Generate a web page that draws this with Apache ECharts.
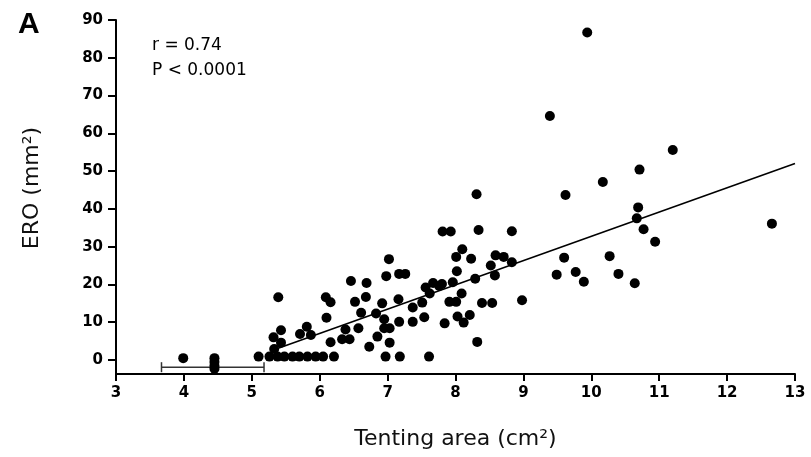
<!DOCTYPE html>
<html>
<head>
<meta charset="utf-8">
<script src="https://cdn.jsdelivr.net/npm/echarts@6/dist/echarts.min.js"></script>
<style>html,body{margin:0;padding:0;background:#fff;}#c{width:811px;height:457px;}</style>
</head>
<body>
<div id="c"></div>
<script>
// Tenting area (cm²) and ERO (mm²) per patient
const tentingArea = [
  3.99, 4.45, 4.45, 4.45, 4.45,
  5.10, 5.26, 5.38, 5.48, 5.60, 5.70, 5.82, 5.94, 6.05, 6.21, 6.97, 7.18, 7.61,
  5.33, 5.43, 5.32, 5.43, 5.39, 5.71, 5.81, 5.87, 6.09, 6.16, 6.10, 6.16,
  6.33, 6.44, 6.38, 6.46, 6.52, 6.57, 6.61, 6.68, 6.69, 6.73, 6.83, 6.85,
  6.92, 6.95, 6.95, 7.03, 7.03, 6.98, 7.02, 7.17, 7.26, 7.16, 7.17, 7.37,
  7.37, 7.51, 7.54, 7.56, 7.67, 7.76, 7.62, 7.81, 7.93, 7.80, 7.96, 8.02,
  8.01, 8.10, 8.23, 8.09, 7.91, 8.01, 7.84, 8.03, 8.21, 8.12, 8.29, 8.31,
  8.34, 8.32, 8.39, 8.54, 8.52, 8.58, 8.59, 8.71, 8.83, 8.83, 8.98, 9.39,
  9.94, 9.62, 9.60, 9.49, 9.77, 9.89, 10.17, 10.27, 10.40, 10.64, 10.71, 10.69,
  10.67, 10.77, 10.94, 11.20, 12.66
];
const eroValues = [
  0.5, 0.5, -0.5, -1.5, -2.3,
  0.9, 0.9, 0.9, 0.9, 0.9, 0.9, 0.9, 0.9, 0.9, 0.9, 0.9, 0.9, 0.9,
  2.9, 4.6, 6.0, 7.9, 16.6, 6.9, 8.8, 6.6, 16.6, 15.3, 11.2, 4.7,
  5.5, 5.5, 8.1, 20.9, 15.4, 8.4, 12.5, 16.7, 20.4, 3.5, 12.3, 6.2,
  15.0, 10.8, 8.4, 8.4, 4.6, 22.2, 26.7, 22.8, 22.8, 16.1, 10.1, 10.1,
  13.9, 15.2, 11.3, 19.2, 20.4, 19.6, 17.6, 34.0, 34.0, 20.1, 20.6, 23.5,
  27.3, 29.3, 26.8, 17.6, 15.4, 15.4, 9.7, 11.5, 11.9, 9.9, 21.5, 43.9,
  34.4, 4.8, 15.1, 15.1, 25.0, 22.4, 27.7, 27.3, 25.9, 34.1, 15.8, 64.6,
  86.7, 43.7, 27.1, 22.6, 23.3, 20.7, 47.1, 27.5, 22.8, 20.3, 50.4, 40.4,
  37.5, 34.6, 31.3, 55.6, 36.1
];
// Regression line end points
const fitX = [5.4, 13.0];
const fitY = [3.2, 52.0];
// Mean ± SD bar of the zero-ERO group
const errBar = { low: 3.67, high: 5.18, y: -1.9 };
// Axes
const xTicks = [3, 4, 5, 6, 7, 8, 9, 10, 11, 12, 13];
const yTicks = [0, 10, 20, 30, 40, 50, 60, 70, 80, 90];
const xTitle = 'Tenting area (cm²)';
const yTitle = 'ERO (mm²)';
const panelLabel = 'A';
const statsText = ['r = 0.74', 'P < 0.0001'];

const points = tentingArea.map((x, i) => [x, eroValues[i]]);
const fitLine = fitX.map((x, i) => [x, fitY[i]]);

const chart = echarts.init(document.getElementById('c'));
const font = '"DejaVu Sans", sans-serif';
chart.setOption({
  animation: false,
  backgroundColor: '#fff',
  grid: { left: 116, right: 16, top: 20, bottom: 83 },
  xAxis: {
    type: 'value', min: 3, max: 13, interval: 1,
    name: xTitle, nameLocation: 'middle', nameGap: 54,
    nameTextStyle: { fontFamily: font, fontSize: 22, color: '#111' },
    axisLine: { show: true, onZero: false, lineStyle: { color: '#000', width: 2 } },
    axisTick: { show: true, length: 7, lineStyle: { color: '#000', width: 2 } },
    axisLabel: { customValues: xTicks, fontFamily: font, fontSize: 15, fontWeight: 'bold', color: '#000', margin: 12 },
    splitLine: { show: false }
  },
  yAxis: {
    type: 'value', min: -3.7, max: 90,
    axisLine: { show: true, onZero: false, lineStyle: { color: '#000', width: 2 } },
    axisTick: { show: true, length: 8, customValues: yTicks, lineStyle: { color: '#000', width: 2 } },
    axisLabel: { customValues: yTicks, fontFamily: font, fontSize: 15, fontWeight: 'bold', color: '#000', margin: 13 },
    splitLine: { show: false }
  },
  graphic: [
    { type: 'text', left: 18, top: 10, style: { text: panelLabel, font: 'bold 30px "Liberation Sans", Arial, sans-serif', fill: '#000' } },
    { type: 'text', left: 152, top: 37, style: { text: statsText[0], font: '17px ' + font, fill: '#000' } },
    { type: 'text', left: 152, top: 62, style: { text: statsText[1], font: '17px ' + font, fill: '#000' } },
    { type: 'text', x: 32, y: 188, rotation: Math.PI / 2,
      style: { text: yTitle, font: '22px ' + font, fill: '#111', align: 'center', verticalAlign: 'middle' } }
  ],
  series: [
    {
      type: 'custom',
      data: [[errBar.low, errBar.high, errBar.y]],
      renderItem: function (params, api) {
        const a = api.coord([api.value(0), api.value(2)]);
        const b = api.coord([api.value(1), api.value(2)]);
        const st = { stroke: '#333', lineWidth: 1.5 };
        return { type: 'group', children: [
          { type: 'line', shape: { x1: a[0], y1: a[1], x2: b[0], y2: b[1] }, style: st },
          { type: 'line', shape: { x1: a[0], y1: a[1] - 5, x2: a[0], y2: a[1] + 5 }, style: st },
          { type: 'line', shape: { x1: b[0], y1: b[1] - 5, x2: b[0], y2: b[1] + 5 }, style: st }
        ]};
      },
      z: 1
    },
    {
      type: 'line', data: fitLine, symbol: 'none',
      lineStyle: { color: '#000', width: 1.6 }, z: 2
    },
    {
      type: 'scatter', data: points, symbolSize: 10,
      itemStyle: { color: '#000', opacity: 1 }, z: 3
    }
  ]
});
</script>
</body>
</html>
